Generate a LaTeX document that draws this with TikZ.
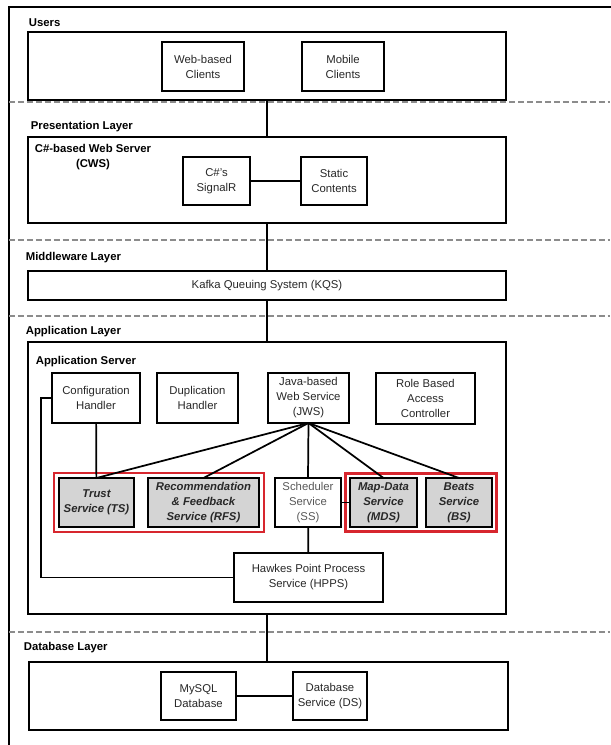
\documentclass[tikz,border=0pt]{standalone}
\usepackage{fontspec}
\setmainfont{Liberation Sans}
\usetikzlibrary{positioning,fit}
\definecolor{framered}{RGB}{215,38,46}
\definecolor{servicegray}{RGB}{212,212,212}
\definecolor{textgray}{RGB}{40,40,40}
\newdimen\pxu \pxu=0.75pt

\begin{document}
\begin{tikzpicture}[-, x=0.75pt, y=-0.75pt, line cap=butt, auto, semithick, font=\fontsize{8.5}{11.25}\selectfont]
   \tikzstyle{every path}=[line width=1.3pt]
   \tikzstyle{box}=[rectangle, draw=black, fill=white, text=textgray, align=center, inner sep=0pt, outer sep=0pt]
   \tikzstyle{layer}=[box, minimum width=478\pxu]
   \tikzstyle{service}=[box, fill=servicegray, font=\fontsize{8.5}{11.25}\selectfont\bfseries\itshape]
   \tikzstyle{title}=[anchor=west, inner sep=0pt, font=\fontsize{8.5}{11.25}\selectfont\bfseries]
   \tikzstyle{divider}=[draw=black!45, line width=1pt, dash pattern=on 4.5pt off 2.2pt]

   \useasboundingbox (0,0) rectangle (610,745);

   % frame and layer dividers
   \draw (9,750) -- (9,7) -- (615,7);
   \foreach \ypos in {102,240,316,632}
      \draw[divider] (9,\ypos) -- (610,\ypos);

   % users
   \node[title] (users_title) at (28,23) {Users};
   \node[layer, minimum height=68\pxu] (users_box) at (267,66) {};
   \node[box, minimum width=82\pxu, minimum height=49\pxu] (web_clients) at (203,66.5) {Web-based\\Clients};
   \node[box, minimum width=82\pxu, minimum height=49\pxu] (mobile_clients) [right=58\pxu of web_clients] {Mobile\\Clients};

   % presentation
   \node[title] (presentation_title) at (30,127) {Presentation Layer};
   \node[layer, minimum height=86\pxu] (cws_box) at (267,180) {};
   \node[title, anchor=center, align=center] (cws_title) at (93,157.5) {C\#-based Web Server\\(CWS)};
   \node[box, minimum width=67\pxu, minimum height=48\pxu] (signalr) at (216.5,181) {C\#'s\\SignalR};
   \node[box, minimum width=66\pxu, minimum height=48\pxu] (static_contents) [right=51\pxu of signalr] {Static\\Contents};

   % middleware
   \node[title] (middleware_title) at (25,258) {Middleware Layer};
   \node[layer, minimum height=29\pxu] (kqs) at (267,285.5) {Kafka Queuing System (KQS)};

   % application
   \node[title] (application_title) at (25,332) {Application Layer};
   \node[layer, minimum height=272\pxu] (app_server) at (267,478) {};
   \node[title] (app_server_title) at (35,362) {Application Server};
   \node[box, minimum width=88\pxu, minimum height=50\pxu] (config_handler) at (96,398) {Configuration\\Handler};
   \node[box, minimum width=81\pxu, minimum height=50\pxu] (dup_handler) at (197.5,398) {Duplication\\Handler};
   \node[box, minimum width=81\pxu, minimum height=50\pxu] (jws) at (308.5,398) {Java-based\\Web Service\\(JWS)};
   \node[box, minimum width=99\pxu, minimum height=51\pxu] (rbac) at (425.5,398.5) {Role Based\\Access\\Controller};

   \node[service, minimum width=75\pxu, minimum height=49\pxu] (trust) at (96.5,502.5) {Trust\\Service (TS)};
   \node[service, minimum width=111\pxu, minimum height=49\pxu] (rfs) [right=14\pxu of trust] {Recommendation\\\& Feedback\\Service (RFS)};
   \node[box, text=black!65, minimum width=66\pxu, minimum height=49\pxu] (scheduler) at (308,502.5) {Scheduler\\Service\\(SS)};
   \node[service, minimum width=67\pxu, minimum height=49\pxu] (mds) at (383.5,502.5) {Map-Data\\Service\\(MDS)};
   \node[service, minimum width=66\pxu, minimum height=49\pxu] (beats) [right=9\pxu of mds] {Beats\\Service\\(BS)};
   \node[draw=framered, line width=1.8pt, inner sep=3.6pt, fit=(trust) (rfs)] (left_group) {};
   \node[draw=framered, line width=1.8pt, inner sep=3.4pt, fit=(mds) (beats)] (right_group) {};

   \node[box, minimum width=149\pxu, minimum height=49\pxu] (hpps) at (308.5,577.5) {Hawkes Point Process\\Service (HPPS)};

   % database
   \node[title] (database_title) at (23,648) {Database Layer};
   \node[box, minimum width=479\pxu, minimum height=68\pxu] (db_box) at (268.5,696) {};
   \node[box, minimum width=75\pxu, minimum height=48\pxu] (mysql) at (198.5,696) {MySQL\\Database};
   \node[box, minimum width=74\pxu, minimum height=48\pxu] (db_service) [right=57\pxu of mysql] {Database\\Service (DS)};

   \path
  (users_box) edge [] (cws_box)
  (signalr) edge [] (static_contents)
  (cws_box) edge [] (kqs)
  (kqs) edge [] (app_server)
  (jws.south) edge [] (trust.north)
  (jws.south) edge [] (rfs.north)
  (jws.south) edge [] (scheduler.north)
  (jws.south) edge [] (mds.north)
  (jws.south) edge [] (beats.north)
  (config_handler) edge [] (trust)
  (scheduler) edge [] (hpps)
  (scheduler) edge [] (mds)
  (mysql) edge [] (db_service)
  (app_server.south) edge [] (app_server.south |- db_box.north)
   ;
   \draw (config_handler.west) -- ++(-11,0) |- (hpps.west);
\end{tikzpicture}
\end{document}
